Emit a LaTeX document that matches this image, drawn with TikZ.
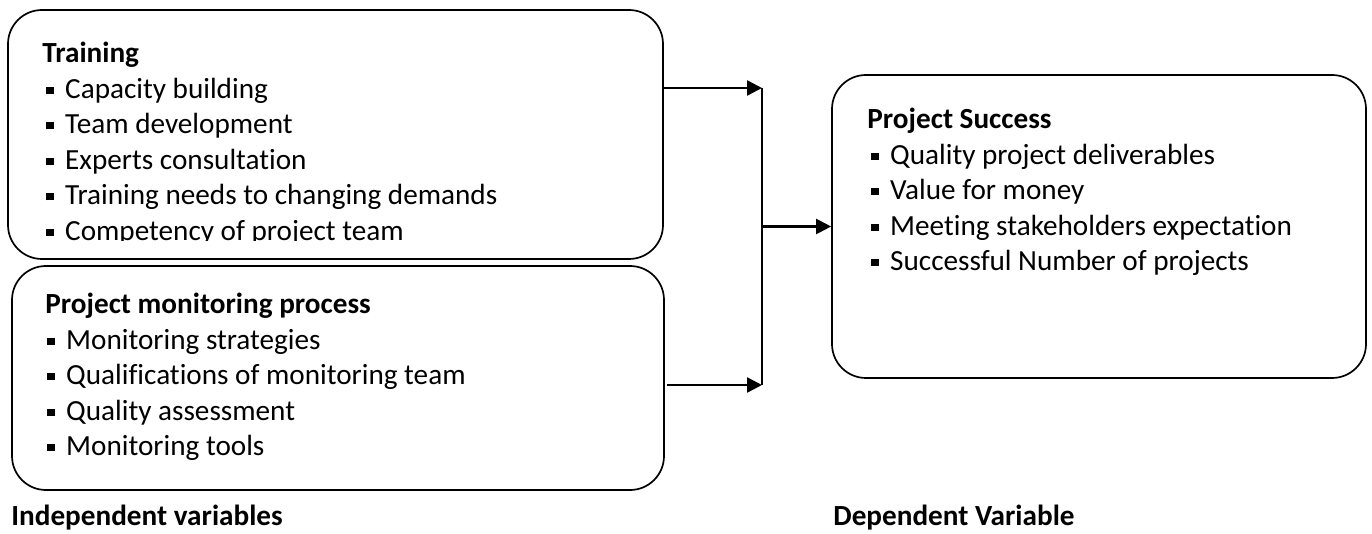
\documentclass[tikz,border=0pt]{standalone}
\usepackage{fontspec}
\setmainfont[Ligatures=NoCommon]{Carlito}
\usetikzlibrary{arrows.meta}
\newcommand{\sqbul}{\rule[2.3pt]{3.6pt}{3.6pt}}

\begin{document}
\begin{tikzpicture}[x=0.5pt,y=-0.5pt,
    box/.style={draw, line width=0.85pt, rounded corners=17pt},
    txt/.style={anchor=base west, inner sep=0pt, font=\fontsize{14.6}{17}\selectfont},
    head/.style={txt, font=\fontsize{14.6}{17}\selectfont\bfseries},
    lnk/.style={line width=1.3pt, -{Triangle[length=7.5pt,width=7.5pt]}}]
\useasboundingbox (0,0) rectangle (1372,534);

% boxes
\node[box, minimum width=327.5pt, minimum height=124.5pt] (train) at (335.5,134.5) {};
\node[box, minimum width=326pt, minimum height=112pt] (mon) at (338,378) {};
\node[box, minimum width=267pt, minimum height=151.5pt] (succ) at (1099,226.5) {};

% training (text runs out of its box)
\begin{scope}
  \clip (0,0) rectangle (700,240.5);
  \node[head] (h1) at (42,63) {Training};
  \foreach \t [count=\i] in {Capacity building, Team development, Experts consultation,
      Training needs to changing demands, Competency of project team}
    \node[txt] (a\i) at (46,63+35.5*\i) {\sqbul\hspace{5.8pt}\t};
\end{scope}

% monitoring
\node[head] (h2) at (45,314) {Project monitoring process};
\foreach \t [count=\i] in {Monitoring strategies, Qualifications of monitoring team,
    Quality assessment, Monitoring tools}
  \node[txt] (b\i) at (47,314+35.5*\i) {\sqbul\hspace{5.8pt}\t};

% success
\node[head] (h3) at (867,129) {Project Success};
\foreach \t [count=\i] in {Quality project deliverables, Value for money,
    Meeting stakeholders expectation, Successful Number of projects}
  \node[txt] (c\i) at (871,129+35.5*\i) {\sqbul\hspace{5.8pt}\t};

\node[head] (ind) at (11,525) {Independent variables};
\node[head] (dep) at (833,525) {Dependent Variable};

% connectors
\coordinate (j1) at (762,88);
\coordinate (j2) at (762,385);
\draw[lnk] (train.east |- j1) -- (j1);
\draw[lnk] ([xshift=1pt]mon.east |- j2) -- (j2);
\draw[line width=0.7pt] (j1) -- (j2);
\draw[lnk, line width=1.1pt] (j1 |- succ.west) -- (succ.west);
\end{tikzpicture}
\end{document}
